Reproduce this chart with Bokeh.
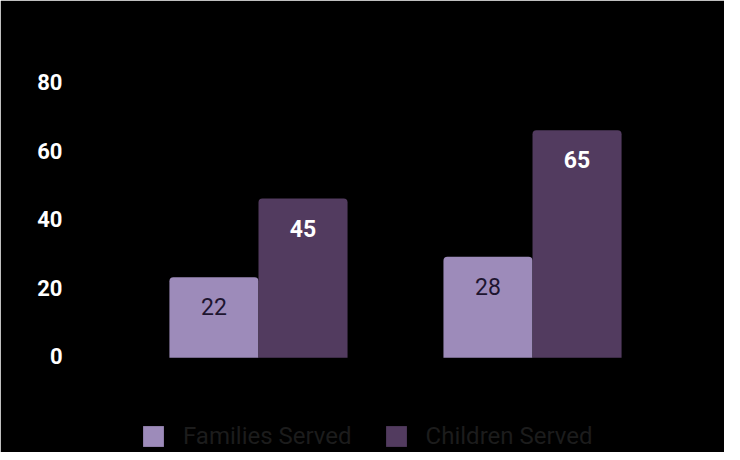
from bokeh.plotting import figure
from bokeh.models import Range1d, FixedTicker, Legend, LegendItem, ColumnDataSource, LinearAxis
from bokeh.core.properties import value
from bokeh.embed import file_html
from bokeh.resources import INLINE

groups = [0, 1]
families = [22, 28]
children = [45, 65]
series_names = ["Families Served", "Children Served"]
y_ticks = [0, 20, 40, 60, 80]

FAM_COLOR = "#9d8bba"
CHI_COLOR = "#523b5f"
BAR_W = 0.325
Y0, Y1 = -29.24, 88.89
AX_SHIFT = 1.02  # axis labels sit slightly lower than the bar baseline

p = figure(width=724, height=452, output_backend="svg", toolbar_location=None,
           x_range=Range1d(-0.686, 1.686), y_range=Range1d(Y0, Y1),
           y_axis_location=None,
           min_border_left=70, min_border_right=4, min_border_top=48, min_border_bottom=0)
p.background_fill_color = "#000000"
p.border_fill_color = "#000000"
p.outline_line_color = "#000000"
p.outline_line_width = 2
p.grid.visible = False
p.xaxis.visible = False

p.extra_y_ranges = {"ax": Range1d(Y0 + AX_SHIFT, Y1 + AX_SHIFT)}
yax = LinearAxis(y_range_name="ax", ticker=FixedTicker(ticks=y_ticks))
yax.axis_line_color = None
yax.major_tick_line_color = None
yax.minor_tick_line_color = None
yax.major_tick_out = 0
yax.major_label_standoff = 8
yax.major_label_text_color = "#ffffff"
yax.major_label_text_font = "Roboto"
yax.major_label_text_font_style = "bold"
yax.major_label_text_font_size = "22px"
p.add_layout(yax, "left")

src_f = ColumnDataSource(dict(x=[g - BAR_W / 2 for g in groups], top=families,
                              lab=[str(v) for v in families]))
src_c = ColumnDataSource(dict(x=[g + BAR_W / 2 for g in groups], top=children,
                              lab=[str(v) for v in children]))

rf = p.vbar(x="x", top="top", bottom=-1.5, width=BAR_W, source=src_f,
            fill_color=FAM_COLOR, line_color=None, border_radius=(4, 4, 0, 0))
rc = p.vbar(x="x", top="top", bottom=-1.5, width=BAR_W, source=src_c,
            fill_color=CHI_COLOR, line_color=None, border_radius=(4, 4, 0, 0))

p.text(x="x", y="top", text="lab", source=src_f, y_offset=29.5,
       text_align="center", text_baseline="middle", text_color="#1e1530",
       text_font=value("Roboto"), text_font_size="23px")
p.text(x="x", y="top", text="lab", source=src_c, y_offset=29.5,
       text_align="center", text_baseline="middle", text_color="#ffffff",
       text_font=value("Roboto"), text_font_style="bold", text_font_size="23px")

legend = Legend(items=[LegendItem(label=series_names[0], renderers=[rf]),
                       LegendItem(label=series_names[1], renderers=[rc])],
                orientation="horizontal", location=(70, 2))
legend.background_fill_alpha = 0
legend.border_line_color = None
legend.padding = 0
legend.margin = 0
legend.spacing = 31
legend.glyph_width = 26
legend.glyph_height = 26
legend.label_standoff = 17
legend.label_text_font = "Roboto"
legend.label_text_font_size = "24px"
legend.label_text_color = "#1c1c1c"
legend.label_height = 26
p.add_layout(legend, "center")

open("out.html", "w").write(file_html(p, INLINE))
